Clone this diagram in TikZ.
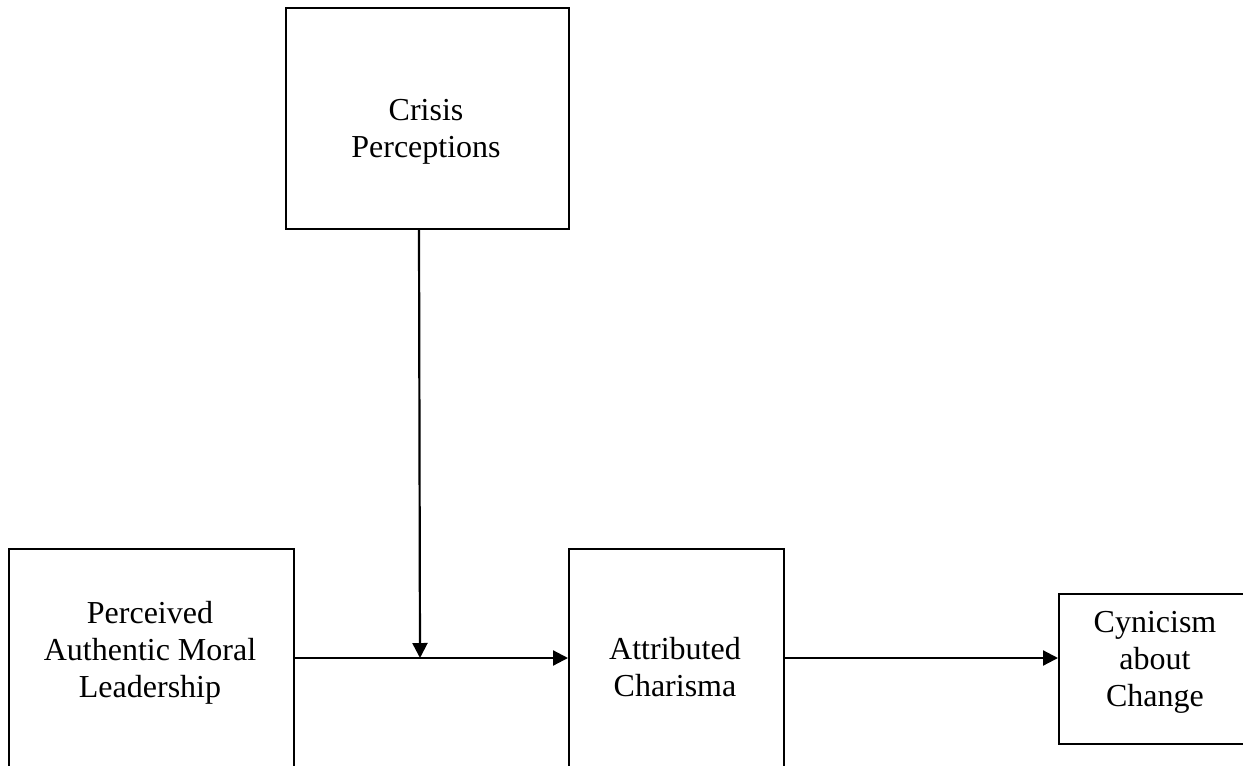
\documentclass[tikz,border=0pt]{standalone}
\usepackage{fontspec}
\setmainfont{Liberation Serif}
\usetikzlibrary{arrows.meta, positioning}

\begin{document}
\begin{tikzpicture}[x=1pt, y=-1pt,
   box/.style={draw, line width=2pt, anchor=north west, inner sep=0pt},
   lbl/.style={align=center, font=\fontsize{32}{37}\selectfont},
   arr/.style={line width=2.2pt, -{Triangle[length=15pt, width=15pt]}}]
   \useasboundingbox (0,0) rectangle (1243,766);
   % boxes
   \node[box, minimum width=283pt, minimum height=221pt] (crisis) at (285,7) {};
   \node[box, minimum width=285pt, minimum height=260pt] (lead) at (8,548) {};
   \node[box, minimum width=215pt, minimum height=260pt] (attr) at (568,548) {};
   \node[box, minimum width=200pt, minimum height=150pt] (cyn) at (1058,593) {};
   % texts
   \node[lbl] (crisistxt) at (426,132) {Crisis\\Perceptions};
   \node[lbl] (leadtxt) at (150,653) {Perceived\\Authentic Moral\\Leadership};
   \node[lbl] (attrtxt) at (675,667) {Attributed\\Charisma};
   \node[lbl] (cyntxt) at (1155,662) {Cynicism\\about\\Change};
   % paths
   \coordinate (mod) at (420,658);
   \draw[arr] ([xshift=-8.5pt]crisis.south) -- (mod);
   \draw[arr] (lead.east |- mod) -- (attr.west |- mod);
   \draw[arr] (attr.east |- mod) -- (cyn.west |- mod);
\end{tikzpicture}
\end{document}
